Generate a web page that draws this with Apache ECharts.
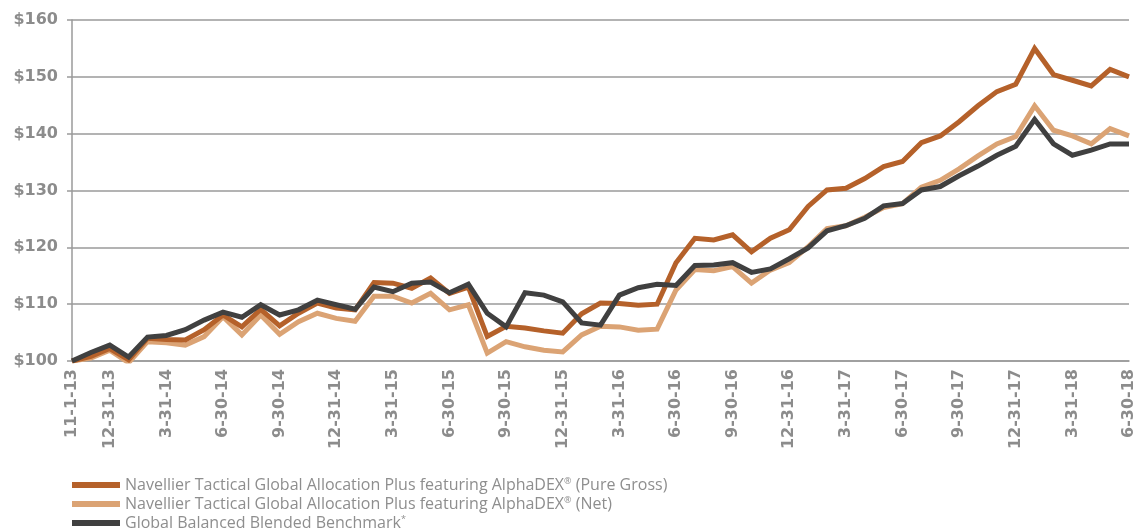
<!DOCTYPE html>
<html>
<head>
<meta charset="utf-8">
<script src="https://cdn.jsdelivr.net/npm/echarts@6/dist/echarts.min.js"></script>
<style>
html, body { margin: 0; padding: 0; background: #fff; }
#container1 { width: 1137px; height: 531px; }
</style>
</head>
<body>
<div id="container1"></div>
<script>
// 日期（月末）
var dates = ['11-1-13', '11-30-13', '12-31-13',
    '1-31-14', '2-28-14', '3-31-14', '4-30-14', '5-31-14', '6-30-14', '7-31-14', '8-31-14', '9-30-14', '10-31-14', '11-30-14', '12-31-14',
    '1-31-15', '2-28-15', '3-31-15', '4-30-15', '5-31-15', '6-30-15', '7-31-15', '8-31-15', '9-30-15', '10-31-15', '11-30-15', '12-31-15',
    '1-31-16', '2-29-16', '3-31-16', '4-30-16', '5-31-16', '6-30-16', '7-31-16', '8-31-16', '9-30-16', '10-31-16', '11-30-16', '12-31-16',
    '1-31-17', '2-28-17', '3-31-17', '4-30-17', '5-31-17', '6-30-17', '7-31-17', '8-31-17', '9-30-17', '10-31-17', '11-30-17', '12-31-17',
    '1-31-18', '2-28-18', '3-31-18', '4-30-18', '5-31-18', '6-30-18'];

var pureGross = [100, 100.8, 102.2, 100.2, 104.0, 103.8, 103.7, 105.5, 108.1, 106.0, 109.1, 106.2, 108.4, 110.2, 109.3,
    109.0, 113.8, 113.7, 112.8, 114.6, 111.9, 113.0, 104.3, 106.1, 105.8, 105.3, 104.9,
    108.3, 110.2, 110.1, 109.8, 110.0, 117.3, 121.6, 121.3, 122.2, 119.2, 121.6, 123.1,
    127.2, 130.1, 130.4, 132.1, 134.2, 135.1, 138.4, 139.6, 142.1, 144.9, 147.4, 148.7,
    155.0, 150.4, 149.4, 148.4, 151.3, 150.0];

var net = [100, 100.5, 101.9, 99.7, 103.4, 103.2, 102.8, 104.3, 107.8, 104.6, 108.1, 104.7, 106.9, 108.4, 107.5,
    107.0, 111.4, 111.4, 110.2, 111.9, 109.0, 109.9, 101.4, 103.4, 102.5, 101.9, 101.6,
    104.6, 106.1, 106.0, 105.4, 105.6, 112.5, 116.1, 115.9, 116.6, 113.7, 116.0, 117.3,
    120.1, 123.3, 123.8, 125.3, 127.0, 127.7, 130.6, 131.8, 133.8, 136.1, 138.2, 139.5,
    144.9, 140.6, 139.6, 138.2, 140.9, 139.6];

var benchmark = [100, 101.5, 102.8, 100.7, 104.2, 104.5, 105.5, 107.2, 108.6, 107.7, 109.9, 108.1, 109.0, 110.7, 109.9,
    109.1, 113.0, 112.2, 113.7, 113.9, 112.0, 113.5, 108.4, 106.0, 112.0, 111.6, 110.4,
    106.7, 106.3, 111.6, 112.9, 113.5, 113.3, 116.8, 116.9, 117.3, 115.6, 116.2, 118.0,
    119.9, 122.9, 123.8, 125.1, 127.3, 127.7, 130.1, 130.7, 132.6, 134.3, 136.2, 137.8,
    142.5, 138.2, 136.2, 137.1, 138.2, 138.2];

var seriesNames = [
    'Navellier Tactical Global Allocation Plus featuring AlphaDEX® (Pure Gross)',
    'Navellier Tactical Global Allocation Plus featuring AlphaDEX® (Net)',
    'Global Balanced Blended Benchmark*'
];
var colors = ['#b5612a', '#dba374', '#404040'];

var myChart = echarts.init(document.getElementById('container1'));
var axisFont = 'DejaVu Sans';

var option = {
    animation: false,
    backgroundColor: '#fff',
    grid: { left: 72, right: 8, top: 20, bottom: 170 },
    legend: {
        orient: 'vertical',
        left: 72,
        top: 477,
        height: 60,
        padding: 0,
        itemWidth: 48,
        itemHeight: 6,
        itemGap: 3,
        icon: 'rect',
        data: seriesNames,
        formatter: function (name) {
            // ® 和 * 做成上标
            if (name.indexOf('®') >= 0) {
                var p = name.split('®');
                return p[0] + '{sup|®}' + p[1];
            }
            return name.replace('*', '') + '{sup|*}';
        },
        textStyle: {
            color: '#8e8e8e',
            fontFamily: 'Open Sans',
            fontSize: 16,
            lineHeight: 16,
            rich: {
                sup: { fontSize: 9, verticalAlign: 'top', color: '#8e8e8e', lineHeight: 16, padding: [0, 0, 5, 0] }
            }
        }
    },
    xAxis: {
        type: 'category',
        boundaryGap: false,
        data: dates,
        axisLine: { lineStyle: { color: '#9a9a9a', width: 1.5 } },
        axisTick: { show: false },
        axisLabel: {
            rotate: 90,
            margin: 8,
            color: '#8c8c8c',
            fontFamily: axisFont,
            fontWeight: 'bold',
            fontSize: 16,
            interval: function (idx) {
                return idx === 0 || (idx - 2) % 3 === 0;
            }
        }
    },
    yAxis: {
        type: 'value',
        min: 100,
        max: 160,
        interval: 10,
        axisLine: { show: true, lineStyle: { color: '#9a9a9a', width: 1.5 } },
        axisTick: { show: true, length: 5, lineStyle: { color: '#9a9a9a', width: 1.5 } },
        splitLine: { lineStyle: { color: '#9a9a9a', width: 1.5 } },
        axisLabel: {
            margin: 14,
            color: '#8c8c8c',
            fontFamily: axisFont,
            fontWeight: 'bold',
            fontSize: 16,
            formatter: '${value}'
        }
    },
    series: [
        {
            name: seriesNames[1],
            type: 'line',
            data: net,
            symbol: 'none',
            z: 2,
            lineStyle: { width: 5, color: colors[1], join: 'miter' },
            itemStyle: { color: colors[1] }
        },
        {
            name: seriesNames[0],
            type: 'line',
            data: pureGross,
            symbol: 'none',
            z: 3,
            lineStyle: { width: 5, color: colors[0], join: 'miter' },
            itemStyle: { color: colors[0] }
        },
        {
            name: seriesNames[2],
            type: 'line',
            data: benchmark,
            symbol: 'none',
            z: 4,
            lineStyle: { width: 5, color: colors[2], join: 'miter' },
            itemStyle: { color: colors[2] }
        }
    ]
};
myChart.setOption(option);
</script>
</body>
</html>
